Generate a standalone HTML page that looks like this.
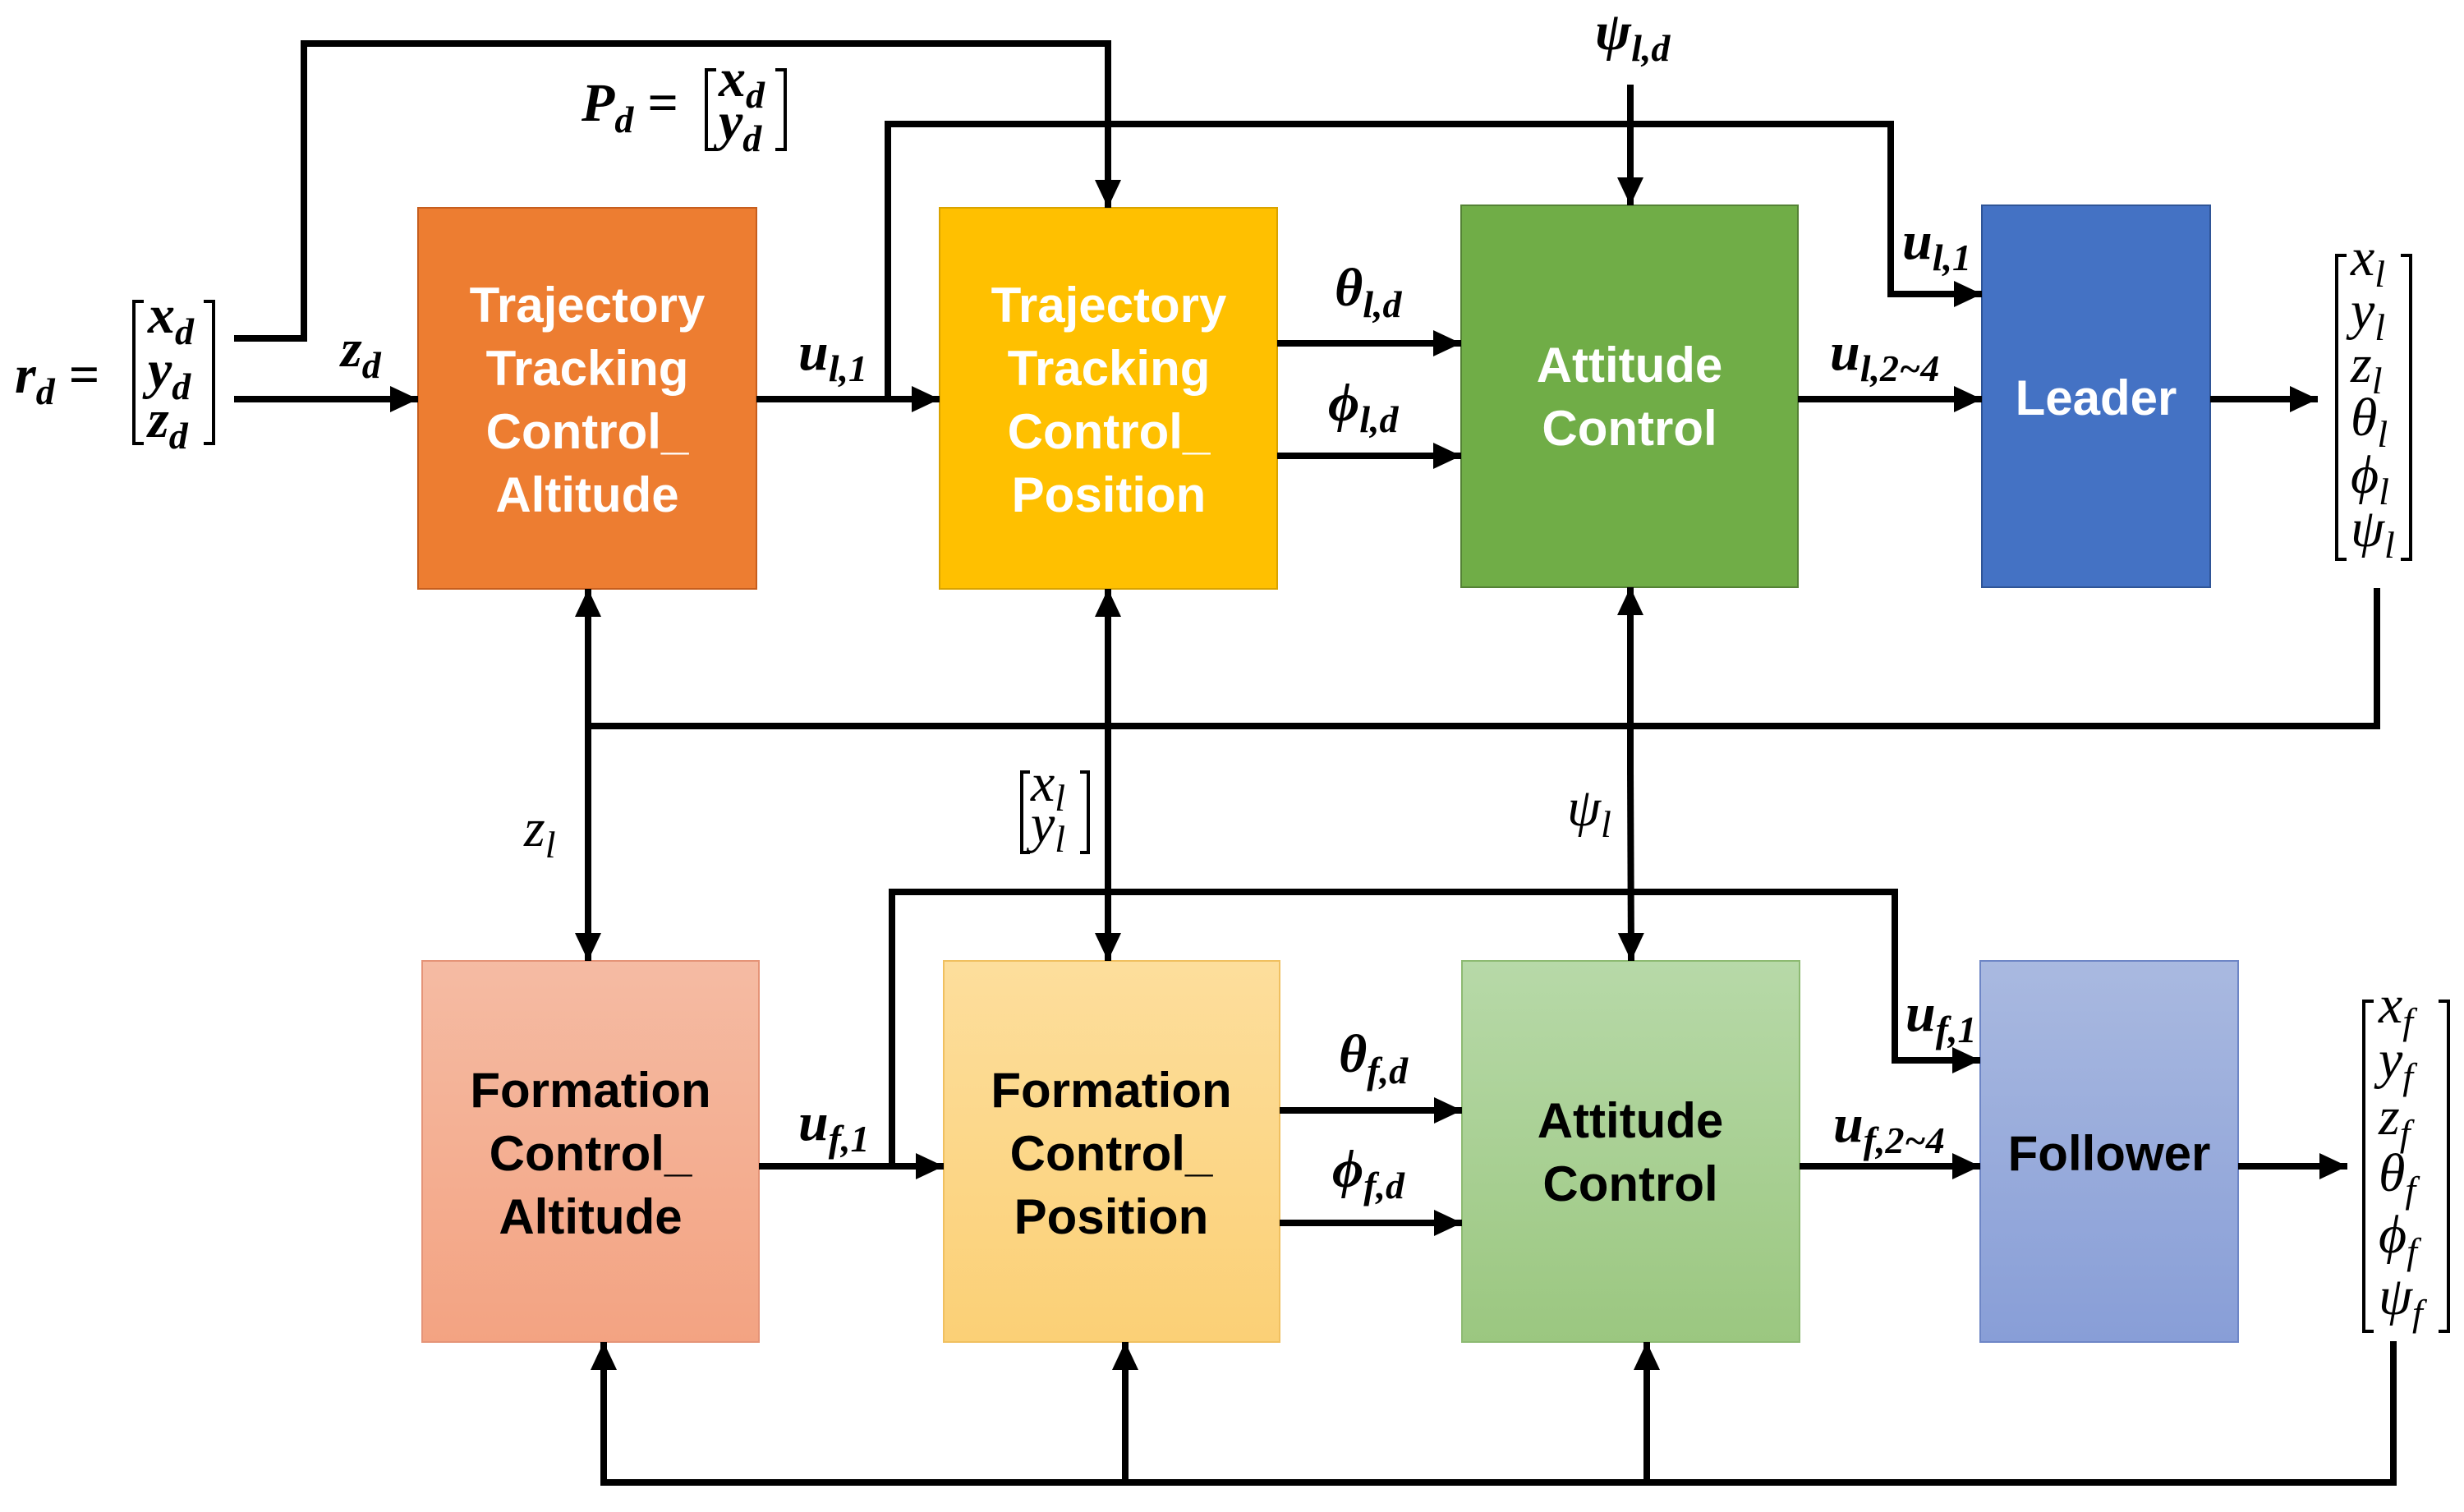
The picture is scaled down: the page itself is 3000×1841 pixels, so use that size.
<!DOCTYPE html>
<html><head><meta charset="utf-8"><style>
html,body{margin:0;padding:0;background:#fff}
svg{display:block}
.bx{font-family:"Liberation Sans",sans-serif;font-weight:bold;font-size:60px;text-anchor:middle}
.m{font-family:"Liberation Serif",serif;font-style:italic;font-size:66px}
.mb{font-family:"Liberation Serif",serif;font-style:italic;font-weight:bold;font-size:66px}
.s{font-size:46px}
</style></head><body>
<svg width="3000" height="1841" viewBox="0 0 3000 1841" xmlns="http://www.w3.org/2000/svg">
<defs>
<marker id="a" markerUnits="userSpaceOnUse" markerWidth="36" markerHeight="36" refX="34" refY="18" orient="auto"><path d="M0,2 L34,18 L0,34 Z" fill="#000"/></marker>
<linearGradient id="g1" x1="0" y1="0" x2="0" y2="1"><stop offset="0" stop-color="#F5BBA3"/><stop offset="1" stop-color="#F3A382"/></linearGradient>
<linearGradient id="g2" x1="0" y1="0" x2="0" y2="1"><stop offset="0" stop-color="#FDDE9C"/><stop offset="1" stop-color="#FBD076"/></linearGradient>
<linearGradient id="g3" x1="0" y1="0" x2="0" y2="1"><stop offset="0" stop-color="#B7D9A8"/><stop offset="1" stop-color="#9BC780"/></linearGradient>
<linearGradient id="g4" x1="0" y1="0" x2="0" y2="1"><stop offset="0" stop-color="#A9B9E0"/><stop offset="1" stop-color="#889ED7"/></linearGradient>
</defs>

<rect x="509" y="253" width="412" height="464" fill="#ED7D31" stroke="#C65E1E" stroke-width="2"/>
<rect x="1144" y="253" width="411" height="464" fill="#FFC000" stroke="#D9A300" stroke-width="2"/>
<rect x="1779" y="250" width="410" height="465" fill="#70AD47" stroke="#548235" stroke-width="2"/>
<rect x="2413" y="250" width="278" height="465" fill="#4472C4" stroke="#2F5597" stroke-width="2"/>
<rect x="514" y="1170" width="410" height="464" fill="url(#g1)" stroke="#E59478" stroke-width="2"/>
<rect x="1149" y="1170" width="409" height="464" fill="url(#g2)" stroke="#F0C060" stroke-width="2"/>
<rect x="1780" y="1170" width="411" height="464" fill="url(#g3)" stroke="#8DBA72" stroke-width="2"/>
<rect x="2411" y="1170" width="314" height="464" fill="url(#g4)" stroke="#6E86C6" stroke-width="2"/>

<g class="bx" fill="#fff">
<text x="715" y="392">Trajectory</text><text x="715" y="469">Tracking</text><text x="715" y="546">Control_</text><text x="715" y="623">Altitude</text>
<text x="1350" y="392">Trajectory</text><text x="1350" y="469">Tracking</text><text x="1350" y="546">Control_</text><text x="1350" y="623">Position</text>
<text x="1984" y="465">Attitude</text><text x="1984" y="542">Control</text>
<text x="2552" y="505">Leader</text>
</g>
<g class="bx" fill="#000">
<text x="719" y="1348">Formation</text><text x="719" y="1425">Control_</text><text x="719" y="1502">Altitude</text>
<text x="1353" y="1348">Formation</text><text x="1353" y="1425">Control_</text><text x="1353" y="1502">Position</text>
<text x="1985" y="1385">Attitude</text><text x="1985" y="1462">Control</text>
<text x="2568" y="1425">Follower</text>
</g>

<g stroke="#000" stroke-width="8" fill="none">
<polyline points="285,412 370,412 370,53 1349,53 1349,253" marker-end="url(#a)"/>
<line x1="285" y1="486" x2="509" y2="486" marker-end="url(#a)"/>
<line x1="921" y1="486" x2="1144" y2="486" marker-end="url(#a)"/>
<polyline points="1081,486 1081,151 2302,151 2302,358 2413,358" marker-end="url(#a)"/>
<line x1="1985" y1="103" x2="1985" y2="250" marker-end="url(#a)"/>
<line x1="1555" y1="418" x2="1779" y2="418" marker-end="url(#a)"/>
<line x1="1555" y1="555" x2="1779" y2="555" marker-end="url(#a)"/>
<line x1="2189" y1="486" x2="2413" y2="486" marker-end="url(#a)"/>
<line x1="2691" y1="486" x2="2822" y2="486" marker-end="url(#a)"/>
<polyline points="2894,716 2894,884 716,884"/>
<line x1="716" y1="940" x2="716" y2="717" marker-end="url(#a)"/>
<line x1="716" y1="940" x2="716" y2="1170" marker-end="url(#a)"/>
<line x1="1349" y1="940" x2="1349" y2="717" marker-end="url(#a)"/>
<line x1="1349" y1="940" x2="1349" y2="1170" marker-end="url(#a)"/>
<line x1="1985" y1="940" x2="1985" y2="715" marker-end="url(#a)"/>
<line x1="1985" y1="940" x2="1986" y2="1170" marker-end="url(#a)"/>
<line x1="924" y1="1420" x2="1149" y2="1420" marker-end="url(#a)"/>
<polyline points="1086,1420 1086,1086 2307,1086 2307,1291 2411,1291" marker-end="url(#a)"/>
<line x1="1558" y1="1352" x2="1780" y2="1352" marker-end="url(#a)"/>
<line x1="1558" y1="1489" x2="1780" y2="1489" marker-end="url(#a)"/>
<line x1="2191" y1="1420" x2="2411" y2="1420" marker-end="url(#a)"/>
<line x1="2725" y1="1420" x2="2858" y2="1420" marker-end="url(#a)"/>
<polyline points="2914,1633 2914,1805 735,1805 735,1634" marker-end="url(#a)"/>
<line x1="1370" y1="1805" x2="1370" y2="1634" marker-end="url(#a)"/>
<line x1="2005" y1="1805" x2="2005" y2="1634" marker-end="url(#a)"/>
</g>

<g stroke="#000" stroke-width="4" fill="none">
<path d="M175,367 H163 V540 H175"/><path d="M248,367 H260 V540 H248"/>
<path d="M872,85 H860 V182 H872"/><path d="M944,85 H956 V182 H944"/>
<path d="M2857,311 H2845 V681 H2857"/><path d="M2923,311 H2935 V681 H2923"/>
<path d="M1254,940 H1244 V1038 H1254"/><path d="M1315,940 H1325 V1038 H1315"/>
<path d="M2890,1219 H2878 V1621 H2890"/><path d="M2969,1219 H2981 V1621 H2969"/>
</g>

<g fill="#000">
<text class="mb" x="18" y="478">r<tspan class="s" dy="14">d</tspan><tspan dy="-14"> =</tspan></text>
<text class="mb" x="180" y="405">x<tspan class="s" dy="14">d</tspan></text>
<text class="mb" x="180" y="472">y<tspan class="s" dy="14">d</tspan></text>
<text class="mb" x="180" y="532">z<tspan class="s" dy="14">d</tspan></text>
<text class="mb" x="708" y="147">P<tspan class="s" dy="14">d</tspan><tspan dy="-14"> =</tspan></text>
<text class="mb" x="875" y="117">x<tspan class="s" dy="14">d</tspan></text>
<text class="mb" x="875" y="170">y<tspan class="s" dy="14">d</tspan></text>
<text class="mb" x="415" y="446">z<tspan class="s" dy="14">d</tspan></text>
<text class="mb" x="972" y="450">u<tspan class="s" dy="14">l,1</tspan></text>
<text class="mb" x="1625" y="372">θ<tspan class="s" dy="14">l,d</tspan></text>
<text class="mb" x="1617" y="512">ϕ<tspan class="s" dy="14">l,d</tspan></text>
<text class="mb" x="1942" y="60">ψ<tspan class="s" dy="14">l,d</tspan></text>
<text class="mb" x="2316" y="315">u<tspan class="s" dy="14">l,1</tspan></text>
<text class="mb" x="2228" y="450">u<tspan class="s" dy="14">l,2~4</tspan></text>
<text class="m" x="2862" y="335">x<tspan class="s" dy="14">l</tspan></text>
<text class="m" x="2862" y="400">y<tspan class="s" dy="14">l</tspan></text>
<text class="m" x="2862" y="465">z<tspan class="s" dy="14">l</tspan></text>
<text class="m" x="2862" y="530">θ<tspan class="s" dy="14">l</tspan></text>
<text class="m" x="2862" y="600">ϕ<tspan class="s" dy="14">l</tspan></text>
<text class="m" x="2862" y="665">ψ<tspan class="s" dy="14">l</tspan></text>
<text class="m" x="638" y="1030">z<tspan class="s" dy="14">l</tspan></text>
<text class="m" x="1255" y="975">x<tspan class="s" dy="12">l</tspan></text>
<text class="m" x="1255" y="1025">y<tspan class="s" dy="12">l</tspan></text>
<text class="m" x="1908" y="1005">ψ<tspan class="s" dy="14">l</tspan></text>
<text class="mb" x="972" y="1388">u<tspan class="s" dy="14">f,1</tspan></text>
<text class="mb" x="1630" y="1305">θ<tspan class="s" dy="14">f,d</tspan></text>
<text class="mb" x="1622" y="1445">ϕ<tspan class="s" dy="14">f,d</tspan></text>
<text class="mb" x="2320" y="1255">u<tspan class="s" dy="14">f,1</tspan></text>
<text class="mb" x="2232" y="1390">u<tspan class="s" dy="14">f,2~4</tspan></text>
<text class="m" x="2896" y="1245">x<tspan class="s" dy="14">f</tspan></text>
<text class="m" x="2896" y="1312">y<tspan class="s" dy="14">f</tspan></text>
<text class="m" x="2896" y="1381">z<tspan class="s" dy="14">f</tspan></text>
<text class="m" x="2896" y="1450">θ<tspan class="s" dy="14">f</tspan></text>
<text class="m" x="2896" y="1525">ϕ<tspan class="s" dy="14">f</tspan></text>
<text class="m" x="2896" y="1600">ψ<tspan class="s" dy="14">f</tspan></text>
</g>
</svg>
</body></html>
